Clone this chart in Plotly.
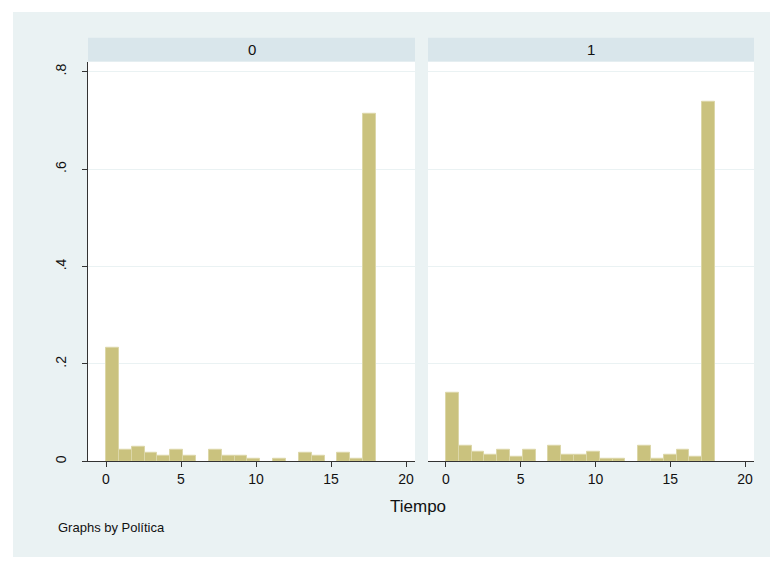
import plotly.graph_objects as go

# Histogram parameters and data (density per bin)
bin_start = 0.0
bin_width = 18 / 21
density_0 = [0.233, 0.023, 0.029, 0.018, 0.012, 0.023, 0.012, 0.0, 0.023, 0.012,
             0.012, 0.006, 0.0, 0.006, 0.0, 0.018, 0.012, 0.0, 0.018, 0.006, 0.713]
density_1 = [0.1415, 0.0327, 0.019, 0.0136, 0.023, 0.0095, 0.023, 0.0, 0.0327, 0.0136,
             0.0136, 0.019, 0.0048, 0.0048, 0.0, 0.0327, 0.0048, 0.0136, 0.023, 0.0095, 0.739]
panel_labels = ["0", "1"]
x_ticks = [0, 5, 10, 15, 20]
y_ticks = [0, 0.2, 0.4, 0.6, 0.8]
y_tick_text = ["0", ".2", ".4", ".6", ".8"]

W, H = 770, 563
BG = "#EAF2F3"
STRIP = "#D9E6EB"
FILL = "#CAC27E"
EDGE = "#DCD7A8"
GRID = "#EAF2F3"
FONT = "Liberation Sans, Arial, sans-serif"

def px_x(p):
    return p / W

def px_y(p):
    return 1 - p / H

centers = [bin_start + (i + 0.5) * bin_width for i in range(len(density_0))]

fig = go.Figure()
for i, dens in enumerate([density_0, density_1]):
    fig.add_trace(go.Bar(
        x=centers, y=[d if d > 0 else None for d in dens], width=bin_width,
        marker=dict(color=FILL, line=dict(color=EDGE, width=1)),
        xaxis="x" if i == 0 else "x2", yaxis="y" if i == 0 else "y2",
        showlegend=False, hoverinfo="x+y",
    ))

ydom = [px_y(463), px_y(62)]
xrange = [-1.2, 20.6]
yrange = [0, 0.8205]

common_x = dict(range=xrange, tickvals=x_ticks, ticks="outside", ticklen=5,
                tickcolor="#333", showline=True, linecolor="#333", linewidth=1,
                showgrid=False, zeroline=False,
                tickfont=dict(size=14, color="#111", family=FONT))
common_y = dict(range=yrange, tickvals=y_ticks, showgrid=True, gridcolor=GRID,
                gridwidth=1.2, zeroline=False)

panels = [(88, 415), (428, 754)]
shapes = [dict(type="rect", xref="paper", yref="paper", layer="below",
               x0=px_x(13), x1=px_x(770), y0=px_y(559), y1=px_y(12),
               fillcolor=BG, line=dict(width=0))]
for (a, b) in panels:
    shapes.append(dict(type="rect", xref="paper", yref="paper", layer="below",
                       x0=px_x(a), x1=px_x(b), y0=px_y(62), y1=px_y(38),
                       fillcolor=STRIP, line=dict(width=0)))
    shapes.append(dict(type="rect", xref="paper", yref="paper", layer="below",
                       x0=px_x(a), x1=px_x(b), y0=px_y(463), y1=px_y(62),
                       fillcolor="white", line=dict(width=0)))

annotations = []
for lab, (a, b) in zip(panel_labels, panels):
    annotations.append(dict(text=lab, xref="paper", yref="paper",
                            x=px_x((a + b) / 2), y=px_y(50), xanchor="center",
                            yanchor="middle", showarrow=False,
                            font=dict(size=15, color="#111", family=FONT)))
annotations.append(dict(text="Tiempo", xref="paper", yref="paper",
                        x=px_x(418), y=px_y(508), xanchor="center", yanchor="middle",
                        showarrow=False, font=dict(size=17, color="#111", family=FONT)))
annotations.append(dict(text="Graphs by Política", xref="paper", yref="paper",
                        x=px_x(56), y=px_y(529), xanchor="left", yanchor="middle",
                        showarrow=False, font=dict(size=13, color="#111", family=FONT)))

fig.update_layout(
    width=W, height=H,
    margin=dict(l=0, r=0, t=0, b=0),
    paper_bgcolor="white", plot_bgcolor="rgba(0,0,0,0)",
    bargap=0,
    font=dict(family=FONT, color="#111"),
    xaxis=dict(domain=[px_x(88), px_x(415)], anchor="y", **common_x),
    xaxis2=dict(domain=[px_x(428), px_x(754)], anchor="y2", **common_x),
    yaxis=dict(domain=ydom, anchor="x", ticktext=y_tick_text, ticks="outside",
               ticklen=5, tickcolor="#333", showline=True, linecolor="#333",
               linewidth=1, tickangle=-90, ticklabelstandoff=10,
               tickfont=dict(size=14, color="#111", family=FONT), **common_y),
    yaxis2=dict(domain=ydom, anchor="x2", showticklabels=False, ticks="",
                showline=False, **common_y),
    shapes=shapes,
    annotations=annotations,
)

fig.write_html("out.html", config={"displayModeBar": False},
               post_script="document.body.style.margin='0';")
